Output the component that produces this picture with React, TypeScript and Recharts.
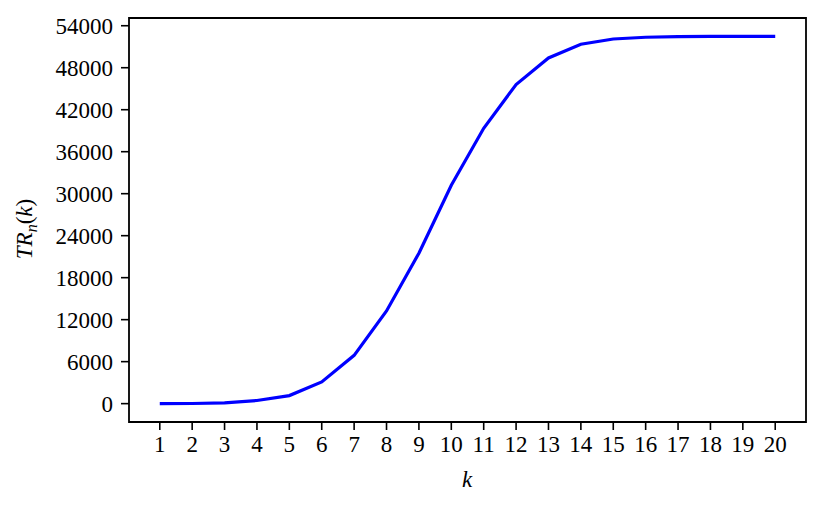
import React from 'react';
import { LineChart, Line, XAxis, YAxis, ReferenceArea } from 'recharts';

// k values and TR_n(k)
const kValues = [1, 2, 3, 4, 5, 6, 7, 8, 9, 10, 11, 12, 13, 14, 15, 16, 17, 18, 19, 20];
const trValues = [
  0, 20, 120, 450, 1150, 3100, 6900, 13250, 21500, 31200,
  39350, 45600, 49400, 51350, 52100, 52350, 52450, 52480, 52480, 52480,
];
const yTicks = [0, 6000, 12000, 18000, 24000, 30000, 36000, 42000, 48000, 54000];

const data = kValues.map((k, i) => ({ k, tr: trValues[i] }));

const font = '"Liberation Serif", "DejaVu Serif", serif';
const xDomain: [number, number] = [0.05, 20.95];
const yDomain: [number, number] = [-2624, 55104];

const YLabel = () => (
  <text
    x={32}
    y={229}
    transform="rotate(-90 32 229)"
    textAnchor="middle"
    fontFamily={font}
    fontSize={23}
    fill="#000"
  >
    <tspan fontStyle="italic">TR</tspan>
    <tspan fontStyle="italic" fontSize={16} dy={5}>n</tspan>
    <tspan dy={-5}>(</tspan>
    <tspan fontStyle="italic">k</tspan>
    <tspan>)</tspan>
  </text>
);

const XLabel = () => (
  <text x={467} y={487} textAnchor="middle" fontFamily={font} fontSize={23} fontStyle="italic" fill="#000">
    k
  </text>
);

export default function App() {
  return (
    <div style={{ position: 'absolute', left: 0, top: 0, width: 823, height: 509, background: '#fff' }}>
      <LineChart width={823} height={509} data={data} margin={{ top: 18, right: 17, left: 0, bottom: 0 }}>
        <XAxis
          dataKey="k"
          type="number"
          domain={xDomain}
          ticks={kValues}
          allowDataOverflow
          axisLine={false}
          tickSize={8}
          tickMargin={6}
          height={87}
          tickLine={{ stroke: '#000', strokeWidth: 1.6 }}
          tick={{ fill: '#000', fontFamily: font, fontSize: 23 }}
          label={{ content: () => <XLabel /> }}
        />
        <YAxis
          type="number"
          domain={yDomain}
          ticks={yTicks}
          allowDataOverflow
          axisLine={false}
          tickSize={8}
          tickMargin={8}
          width={129}
          tickLine={{ stroke: '#000', strokeWidth: 1.6 }}
          tick={{ fill: '#000', fontFamily: font, fontSize: 23 }}
          label={{ content: () => <YLabel /> }}
        />
        <ReferenceArea
          x1={xDomain[0]}
          x2={xDomain[1]}
          y1={yDomain[0]}
          y2={yDomain[1]}
          fill="none"
          stroke="#000"
          strokeWidth={1.8}
          fillOpacity={0}
          ifOverflow="visible"
        />
        <Line
          type="linear"
          dataKey="tr"
          stroke="#0000ff"
          strokeWidth={3.2}
          dot={false}
          isAnimationActive={false}
        />
      </LineChart>
    </div>
  );
}
